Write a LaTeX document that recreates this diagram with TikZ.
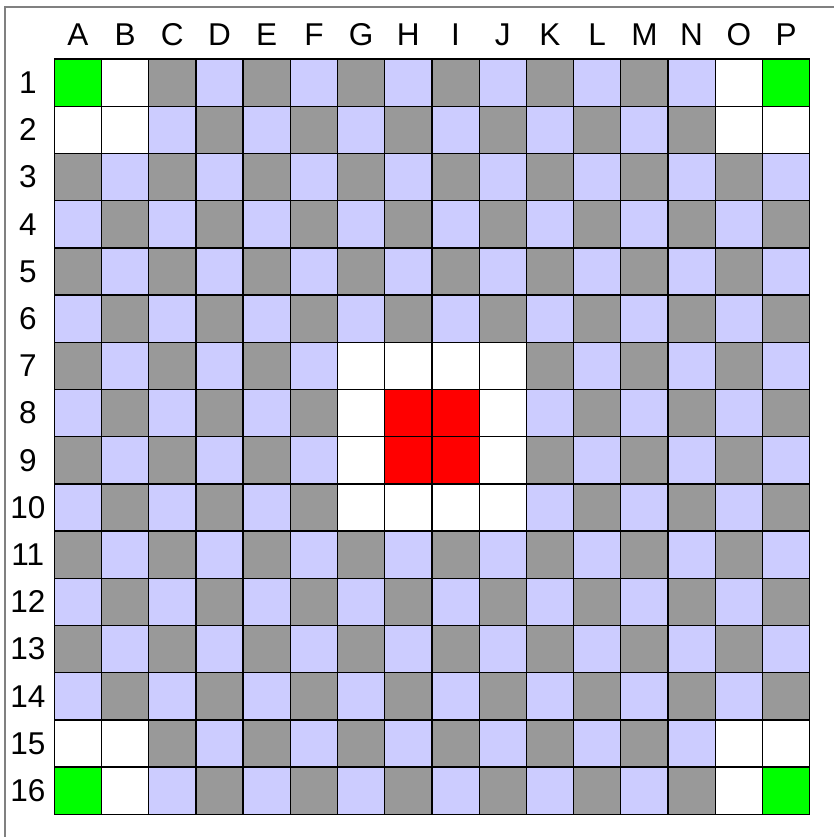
\documentclass[tikz,border=0pt]{standalone}
\usepackage{fontspec}
\setmainfont{Liberation Sans}
\definecolor{boardgray}{HTML}{999999}
\definecolor{boardblue}{HTML}{CCCCFF}
\definecolor{boardgreen}{HTML}{00FF00}
\definecolor{boardred}{HTML}{FF0000}
\begin{document}
\begin{tikzpicture}[cell/.style={draw=black, line width=0.8pt, minimum size=1cm, inner sep=0pt, outer sep=0pt},
    lbl/.style={font=\fontsize{19}{22}\selectfont, inner sep=0pt}]
    \useasboundingbox (-1.15,1.25) rectangle (16.52,-16.48);
    \draw[gray, line width=0.8pt] (-1.045,-16.48) -- (-1.045,1.10) -- (16.52,1.10);
    % checkered board
    \foreach \r in {1,...,16}{
        \foreach \c in {1,...,16}{
            \pgfmathtruncatemacro{\parity}{mod(\r+\c,2)}
            \ifnum\parity=0 \def\cellcol{boardgray}\else\def\cellcol{boardblue}\fi
            \node[cell, fill=\cellcol] (cell-\r-\c) at (\c-0.5, -\r+0.5) {};
        }
    }
    % empty squares
    \foreach \r/\c in {2/1,1/2,2/2,1/15,2/15,2/16,15/1,15/2,16/2,15/15,16/15,15/16,
                       7/7,7/8,7/9,7/10,8/7,8/10,9/7,9/10,10/7,10/8,10/9,10/10}
        \node[cell, fill=white] (cell-\r-\c) at (\c-0.5, -\r+0.5) {};
    % corners and centre
    \foreach \r/\c in {1/1,1/16,16/1,16/16}
        \node[cell, fill=boardgreen] (cell-\r-\c) at (\c-0.5, -\r+0.5) {};
    \foreach \r/\c in {8/8,8/9,9/8,9/9}
        \node[cell, fill=boardred] (cell-\r-\c) at (\c-0.5, -\r+0.5) {};
    % labels
    \foreach \l [count=\c] in {A,B,C,D,E,F,G,H,I,J,K,L,M,N,O,P}
        \node[lbl] (col-\c) at (\c-0.5, 0.51) {\l};
    \foreach \r in {1,...,16}
        \node[lbl] (row-\r) at (-0.56, -\r+0.5) {\r};
\end{tikzpicture}
\end{document}
